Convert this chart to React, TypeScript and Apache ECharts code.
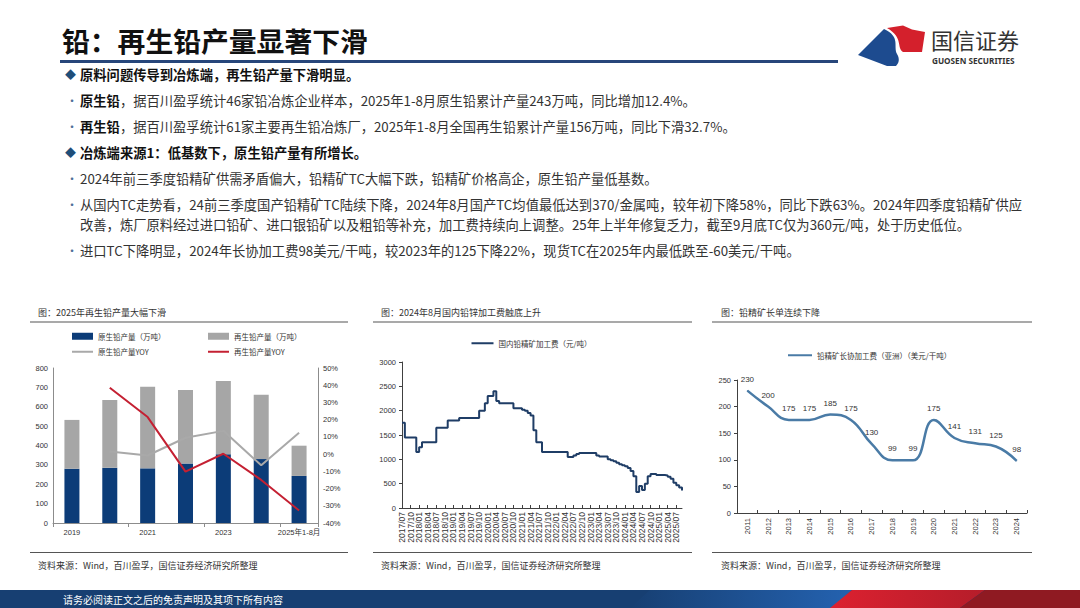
import React, { useEffect, useRef } from 'react';
import * as echarts from 'echarts';

// ---------- Chart 1 data ----------
const c1Years = ['2019', '2020', '2021', '2022', '2023', '2024', '2025年1-8月'];
const c1Primary = [280, 285, 282, 307, 355, 330, 243];
const c1Secondary = [252, 350, 421, 379, 378, 332, 156];
const c1PrimaryYoy = [null, 1.5, -0.8, 9.5, 13.5, -6.5, 12.4];
const c1SecondaryYoy = [null, 38.5, 21.5, -10.2, 0.2, -15.0, -32.7];
const c1LeftTicks = { min: 0, max: 800, interval: 100 };
const c1RightTicks = { min: -40, max: 50, interval: 10 };

// ---------- Chart 2 data (monthly, from 2017/07) ----------
const c2StartYear = 2017;
const c2StartMonth = 7;
const c2Values = [
  1750, 1450, 1450, 1450, 1450, 1150, 1250, 1350, 1350, 1350, 1350, 1350,
  1650, 1650, 1650, 1650, 1800, 1800, 1800, 1800, 1850, 1850, 1850, 1850,
  1850, 1850, 1850, 2000, 2000, 2150, 2300, 2300, 2400, 2200, 2150, 2150,
  2150, 2150, 2150, 2050, 2050, 2050, 2020, 2000, 1950, 1900, 1600, 1350,
  1350, 1150, 1150, 1150, 1150, 1150, 1150, 1150, 1150, 1150, 1050, 1050,
  1080, 1110, 1130, 1130, 1130, 1130, 1130, 1130, 1080, 1060, 1060, 1060,
  1000, 980, 960, 930, 900, 880, 860, 820, 760, 650, 330, 450,
  370, 500, 650, 700, 700, 680, 680, 680, 670, 640, 600, 520,
  470, 420, 360,
];
const c2Months: string[] = [];
for (let i = 0; i < c2Values.length; i++) {
  const t = c2StartYear * 12 + (c2StartMonth - 1) + i;
  const y = Math.floor(t / 12);
  const m = (t % 12) + 1;
  c2Months.push(`${y}/${m < 10 ? '0' + m : m}`);
}

// ---------- Chart 3 data ----------
const c3Years = ['2011', '2012', '2013', '2014', '2015', '2016', '2017', '2018', '2019', '2020', '2021', '2022', '2023', '2024'];
const c3Values = [230, 200, 175, 175, 185, 175, 130, 99, 99, 175, 141, 131, 125, 98];

// ---------- texts ----------
const pageTitle = '铅：再生铅产量显著下滑';
const panelTitles = ['图：2025年再生铅产量大幅下滑', '图：2024年8月国内铅锌加工费触底上升', '图：铅精矿长单连续下降'];
const sourceText = '资料来源：Wind，百川盈孚，国信证券经济研究所整理';
const footerText = '请务必阅读正文之后的免责声明及其项下所有内容';

const FONT = '"Noto Sans CJK SC", "Noto Sans", sans-serif';
const NUMFONT = '"Liberation Sans", "Noto Sans CJK SC", sans-serif';

echarts.graphic.registerShape(
  'gsBlue',
  echarts.graphic.extendPath('M858,55 L884,29 C901,37 893,46 897,54 C900,59 899,63 896,66 L887,66 Z', {})
);
echarts.graphic.registerShape(
  'gsRed',
  echarts.graphic.extendPath('M887,28 L903,25.5 L912,29.5 L925,32 L922,52 L903,52 C896,47 904,38 887,28 Z', {})
);

const TXT = 13.3;
const rich = {
  b: { fontSize: TXT, fontWeight: 'bold', fill: '#111', fontFamily: FONT },
  n: { fontSize: TXT, fill: '#333', fontFamily: FONT },
};

function richText(x: number, y: number, text: string) {
  return {
    type: 'text',
    x,
    y,
    style: { text, rich, align: 'left', verticalAlign: 'middle', textAlign: 'left', textVerticalAlign: 'middle' },
  };
}
function plainText(x: number, y: number, text: string, size: number, fill: string, extra: any = {}) {
  return {
    type: 'text',
    x,
    y,
    style: {
      text,
      fontSize: size,
      fontFamily: FONT,
      fill,
      align: 'left',
      verticalAlign: 'middle',
      textAlign: 'left',
      textVerticalAlign: 'middle',
      ...extra,
    },
  };
}

const rows = [
  { y: 74, mark: '◆', text: '{b|原料问题传导到冶炼端，再生铅产量下滑明显。}' },
  { y: 100, mark: '•', text: '{b|原生铅}{n|，据百川盈孚统计46家铅冶炼企业样本，2025年1-8月原生铅累计产量243万吨，同比增加12.4%。}' },
  { y: 126, mark: '•', text: '{b|再生铅}{n|，据百川盈孚统计61家主要再生铅冶炼厂，2025年1-8月全国再生铅累计产量156万吨，同比下滑32.7%。}' },
  { y: 152, mark: '◆', text: '{b|冶炼端来源1：低基数下，原生铅产量有所增长。}' },
  { y: 178, mark: '•', text: '{n|2024年前三季度铅精矿供需矛盾偏大，铅精矿TC大幅下跌，铅精矿价格高企，原生铅产量低基数。}' },
  { y: 204, mark: '•', text: '{n|从国内TC走势看，24前三季度国产铅精矿TC陆续下降，2024年8月国产TC均值最低达到370/金属吨，较年初下降58%，同比下跌63%。2024年四季度铅精矿供应}' },
  { y: 224, mark: '', text: '{n|改善，炼厂原料经过进口铅矿、进口银铅矿以及粗铅等补充，加工费持续向上调整。25年上半年修复乏力，截至9月底TC仅为360元/吨，处于历史低位。}' },
  { y: 250, mark: '•', text: '{n|进口TC下降明显，2024年长协加工费98美元/干吨，较2023年的125下降22%，现货TC在2025年内最低跌至-60美元/干吨。}' },
];

const graphicElements: any[] = [];
graphicElements.push(plainText(62, 40, pageTitle, 27.8, '#111', { fontWeight: 'bold' }));
graphicElements.push({ type: 'rect', shape: { x: 60, y: 60, width: 778, height: 3 }, style: { fill: '#27467a' } });
graphicElements.push({ type: 'gsBlue', x: 0, y: 0, scaleX: 1, scaleY: 1, style: { fill: '#1d4b8f' } });
graphicElements.push({ type: 'gsRed', x: 0, y: 0, scaleX: 1, scaleY: 1, style: { fill: '#d4202c' } });
graphicElements.push(plainText(931, 39, '国信证券', 22, '#333'));
graphicElements.push(plainText(932, 60, 'GUOSEN SECURITIES', 8.2, '#333', { fontWeight: 'bold', fontFamily: '"Noto Sans", sans-serif' }));

rows.forEach((r) => {
  if (r.mark === '◆') graphicElements.push(plainText(65, r.y, '◆', 11, '#1f4e79'));
  if (r.mark === '•') graphicElements.push(plainText(66, r.y, '•', 12, '#4f6f99'));
  graphicElements.push(richText(80, r.y, r.text));
});

const panels = [
  { x0: 30, x1: 348, tx: 38 },
  { x0: 373, x1: 692, tx: 381 },
  { x0: 712, x1: 1032, tx: 721 },
];
panels.forEach((p, i) => {
  graphicElements.push(plainText(p.tx, 312, panelTitles[i], 9, '#333'));
  graphicElements.push({ type: 'line', shape: { x1: p.x0, y1: 322, x2: p.x1, y2: 322 }, style: { stroke: '#555', lineWidth: 1.2 } });
  graphicElements.push({ type: 'line', shape: { x1: p.x0, y1: 552.5, x2: p.x1, y2: 552.5 }, style: { stroke: '#555', lineWidth: 1.2 } });
  graphicElements.push(plainText(p.tx, 565, sourceText, 9, '#333'));
});

// footer
graphicElements.push({ type: 'rect', shape: { x: 0, y: 590, width: 1080, height: 18 }, style: { fill: '#173f72' } });
graphicElements.push({
  type: 'polygon',
  shape: { points: [[630, 608], [650, 590], [852, 590], [832, 608]] },
  style: {
    fill: { type: 'linear', x: 0, y: 0, x2: 1, y2: 0, colorStops: [{ offset: 0, color: '#173f72' }, { offset: 1, color: '#2462b0' }] },
  },
});
graphicElements.push({
  type: 'polygon',
  shape: { points: [[830, 608], [852, 590], [985, 590], [960, 608]] },
  style: {
    fill: { type: 'linear', x: 0, y: 0, x2: 1, y2: 0, colorStops: [{ offset: 0, color: '#dc2130' }, { offset: 1, color: '#b51d2a' }] },
  },
});
graphicElements.push({
  type: 'polygon',
  shape: { points: [[960, 608], [985, 590], [1080, 590], [1080, 608]] },
  style: { fill: '#8f1a22' },
});
graphicElements.push(plainText(63, 599, footerText, 10, '#fff'));

const axisLabelBase = { fontSize: 7.5, color: '#333', fontFamily: NUMFONT };
const legendText = { fontSize: 7.5, color: '#333', fontFamily: FONT };
const plainNumber = (v: number) => String(v);

function mkLegend(name: string, left: number, top: number, w: number, h: number) {
  return {
    show: true,
    data: [{ name, icon: 'rect' }],
    left,
    top,
    itemWidth: w,
    itemHeight: h,
    itemGap: 0,
    padding: 0,
    textStyle: legendText,
    selectedMode: false,
  };
}

const option: any = {
  animation: false,
  backgroundColor: '#fff',
  textStyle: { fontFamily: NUMFONT },
  grid: [
    { left: 53, top: 368, width: 265, height: 155 },
    { left: 402, top: 362, width: 280, height: 146 },
    { left: 737, top: 380, width: 290, height: 133 },
  ],
  legend: [
    mkLegend('原生铅产量（万吨）', 72, 332.5, 21, 7),
    mkLegend('再生铅产量（万吨）', 208, 332.5, 21, 7),
    mkLegend('原生铅产量YOY', 72, 348, 21, 2),
    mkLegend('再生铅产量YOY', 208, 348, 21, 2),
    mkLegend('国内铅精矿加工费（元/吨）', 471.5, 339.5, 22, 2),
    mkLegend('铅精矿长协加工费（亚洲）（美元/干吨）', 788, 351.5, 24, 2),
  ],
  xAxis: [
    {
      type: 'category',
      gridIndex: 0,
      data: c1Years,
      axisLine: { lineStyle: { color: '#8c8c8c' } },
      axisTick: { show: true, length: 4, lineStyle: { color: '#8c8c8c' } },
      axisLabel: { ...axisLabelBase, interval: 1, margin: 6 },
    },
    {
      type: 'category',
      gridIndex: 1,
      data: c2Months,
      boundaryGap: false,
      axisLine: { lineStyle: { color: '#404040' } },
      axisTick: { show: true, inside: true, length: 3, interval: (i: number) => i % 3 === 0, lineStyle: { color: '#404040' } },
      axisLabel: { ...axisLabelBase, fontSize: 8.5, rotate: 90, margin: 4, interval: (i: number) => i % 3 === 0 },
    },
    {
      type: 'category',
      gridIndex: 2,
      data: c3Years,
      boundaryGap: true,
      axisLine: { lineStyle: { color: '#404040' } },
      axisTick: { show: true, inside: true, length: 3, lineStyle: { color: '#404040' } },
      axisLabel: { ...axisLabelBase, rotate: 90, margin: 5, interval: 0 },
    },
  ],
  yAxis: [
    {
      type: 'value',
      gridIndex: 0,
      ...c1LeftTicks,
      splitLine: { show: false },
      axisLine: { show: true, lineStyle: { color: '#8c8c8c' } },
      axisTick: { show: false },
      axisLabel: { ...axisLabelBase, margin: 5, formatter: plainNumber },
    },
    {
      type: 'value',
      gridIndex: 0,
      position: 'right',
      ...c1RightTicks,
      splitLine: { show: false },
      axisLine: { show: true, lineStyle: { color: '#8c8c8c' } },
      axisTick: { show: false },
      axisLabel: { ...axisLabelBase, margin: 5, formatter: '{value}%' },
    },
    {
      type: 'value',
      gridIndex: 1,
      min: 0,
      max: 3000,
      interval: 500,
      splitLine: { show: false },
      axisLine: { show: true, lineStyle: { color: '#404040' } },
      axisTick: { show: true, length: 3, lineStyle: { color: '#404040' } },
      axisLabel: { ...axisLabelBase, margin: 6, formatter: plainNumber },
    },
    {
      type: 'value',
      gridIndex: 2,
      min: 0,
      max: 250,
      interval: 50,
      splitLine: { show: false },
      axisLine: { show: true, lineStyle: { color: '#404040' } },
      axisTick: { show: true, length: 3, lineStyle: { color: '#404040' } },
      axisLabel: { ...axisLabelBase, margin: 6, formatter: plainNumber },
    },
  ],
  series: [
    {
      name: '原生铅产量（万吨）',
      type: 'bar',
      xAxisIndex: 0,
      yAxisIndex: 0,
      stack: 'c1',
      data: c1Primary,
      barWidth: 15,
      itemStyle: { color: '#0c3c78' },
    },
    {
      name: '再生铅产量（万吨）',
      type: 'bar',
      xAxisIndex: 0,
      yAxisIndex: 0,
      stack: 'c1',
      data: c1Secondary,
      barWidth: 15,
      itemStyle: { color: '#a6a6a6' },
    },
    {
      name: '原生铅产量YOY',
      type: 'line',
      xAxisIndex: 0,
      yAxisIndex: 1,
      data: c1PrimaryYoy,
      symbol: 'none',
      lineStyle: { color: '#a9a9a9', width: 2 },
      itemStyle: { color: '#a9a9a9' },
    },
    {
      name: '再生铅产量YOY',
      type: 'line',
      xAxisIndex: 0,
      yAxisIndex: 1,
      data: c1SecondaryYoy,
      symbol: 'none',
      lineStyle: { color: '#c42032', width: 2 },
      itemStyle: { color: '#c42032' },
    },
    {
      name: '国内铅精矿加工费（元/吨）',
      type: 'line',
      xAxisIndex: 1,
      yAxisIndex: 2,
      data: c2Values,
      step: 'end',
      symbol: 'none',
      lineStyle: { color: '#1f3d66', width: 2 },
      itemStyle: { color: '#1f3d66' },
    },
    {
      name: '铅精矿长协加工费（亚洲）（美元/干吨）',
      type: 'line',
      xAxisIndex: 2,
      yAxisIndex: 3,
      data: c3Values,
      smooth: 0.45,
      symbol: 'circle',
      symbolSize: 1,
      lineStyle: { color: '#4a7ba6', width: 2.5 },
      itemStyle: { color: '#4a7ba6' },
      label: { show: true, position: 'top', distance: 7, fontSize: 8, color: '#333', fontFamily: NUMFONT },
    },
  ],
  graphic: { elements: graphicElements },
};

export default function App() {
  const ref = useRef<HTMLDivElement>(null);
  useEffect(() => {
    const chart = echarts.init(ref.current as HTMLDivElement, null, { renderer: 'svg', width: 1080, height: 608 });
    chart.setOption(option);
    return () => chart.dispose();
  }, []);
  return (
    <div
      ref={ref}
      style={{ position: 'absolute', left: 0, top: 0, width: 1080, height: 608, background: '#fff' }}
    />
  );
}
